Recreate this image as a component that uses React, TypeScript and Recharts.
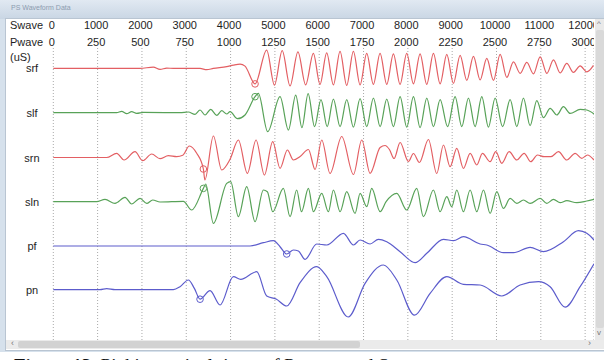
import React from 'react';
import { LineChart, Line, XAxis, YAxis, CartesianGrid, ReferenceDot } from 'recharts';

const SWAVE_TICKS = [0, 1000, 2000, 3000, 4000, 5000, 6000, 7000, 8000, 9000, 10000, 11000, 12000];
const PWAVE_TICKS = [0, 250, 500, 750, 1000, 1250, 1500, 1750, 2000, 2250, 2500, 2750, 3000];

const TRACE_NAMES = ['srf', 'slf', 'srn', 'sln', 'pf', 'pn'];
const TRACE_BASELINES = [271.6, 227.3, 182.5, 138.3, 94, 50.3];
const TRACE_COLORS = ['#e35f63', '#58a258', '#e35f63', '#58a258', '#5c5ccc', '#5c5ccc'];

// [time on the Swave scale, amplitude]
const SRF = [
  [0, 0], [1957, 0], [2257, 1.3], [2408, -1], [2559, 0.3], [2709, 0], [3311, 0], [3461, -1.3], [3612, 0],
  [3913, 1.7], [4063, 3.3], [4214, 4.3], [4326, 2.3], [4552, -15.5], [4815, 18.3], [4990, -16.7],
  [5165, 17.7], [5342, -17.5], [5520, 16.5], [5694, -16.5], [5868, 15], [6018, -16], [6169, 15.5],
  [6320, -16.5], [6470, 17], [6620, -17], [6771, 17], [6922, -16.5], [7072, 15], [7222, -16], [7373, 15],
  [7524, -16], [7674, 14.5], [7824, -16], [7975, 15], [8126, -15.5], [8276, 14.5], [8426, -16], [8577, 15],
  [8728, -15.5], [8878, 14], [9028, -15], [9179, 13], [9330, -12], [9480, 12], [9630, -11.5], [9781, 10],
  [9932, -12], [10082, 14], [10232, -9], [10383, 6.5], [10534, -5], [10684, 6], [10834, -5.5], [10985, 11.5],
  [11136, -5], [11286, 8.5], [11436, -4.5], [11586, 5], [11736, -4], [11887, 2.5], [12038, -3.5], [12188, 3],
];

const SLF = [
  [0, 0], [1430, 0], [1543, 1.3], [1656, -1], [1768, 1], [1881, -0.7], [2032, 0.3], [2859, 0], [3047, 0.7],
  [3198, -1.7], [3311, 2.7], [3424, -2.3], [3552, 3.3], [3687, -2.7], [3800, 2], [3913, -1.3], [3988, 1],
  [4153, -6], [4326, -2.3], [4552, 16], [4627, 19.3], [4838, -19], [5116, 16], [5305, -17.3], [5470, 17.5],
  [5610, -15], [5750, 19], [5895, -14], [6040, 13], [6180, -14], [6320, 13.5], [6470, -14], [6621, 13],
  [6771, -14.5], [6922, 14], [7072, -14], [7223, 14.5], [7374, -14], [7524, 13.5], [7674, -14], [7825, 16],
  [7975, -14.5], [8126, 16], [8276, -15], [8427, 14.5], [8577, -14], [8728, 13], [8897, -14], [9066, 16],
  [9216, -14], [9367, 14.5], [9517, -14], [9668, 16], [9818, -14.5], [9969, 14.5], [10138, -14], [10308, 13],
  [10458, -14], [10608, 14.5], [10758, -13], [10909, 12], [11060, -5], [11211, 4.3], [11361, -2.3],
  [11511, 6], [11662, -0.7], [11887, 3.3], [12038, 2.7], [12200, -1.3],
];

const SRN = [
  [0, 0], [1204, 0], [1430, 4.2], [1596, -2.5], [1844, 5.8], [2017, -3.2], [2220, 3.5], [2408, -1.2],
  [2596, 1.8], [2784, 0.8], [2920, 2.2], [3070, 11.5], [3236, 4.2], [3386, -11.5], [3420, -22.5],
  [3612, 21.5], [3800, -12.5], [3988, -1.8], [4176, 17.5], [4379, -15.8], [4575, 17.5], [4763, -17.5],
  [4951, 15.8], [5116, -10.8], [5282, 7.5], [5417, -2.5], [5568, 1], [5756, 8], [5907, -12], [6057, 17.5],
  [6245, -16], [6508, 21], [6772, -17], [6960, 17.5], [7148, -15.8], [7374, 10], [7486, 12], [7584, 8],
  [7690, -1], [7825, 15], [8013, -4], [8126, 4], [8261, -5], [8464, 18], [8652, -16], [8803, 12.5],
  [8953, -9.2], [9104, 9.2], [9254, -10.8], [9405, 4.2], [9555, -7.5], [9683, 4.2], [9856, -4.2],
  [9984, 5.8], [10119, -5.8], [10285, 5.8], [10458, -2.5], [10624, 4.2], [10774, -4.2], [10924, 2.5],
  [11075, 0.8], [11226, 0.8], [11398, 5.8], [11586, -2.5], [11775, 4.2], [11925, -0.8], [12053, 2.5],
  [12200, -2.5],
];

const SLN = [
  [0, 0], [979, 0], [1167, 2.3], [1392, -1.7], [1618, 4.3], [1768, -2.3], [1957, 3.3], [2107, -1.7],
  [2243, 1.7], [2408, -0.3], [2935, 0.3], [3123, -8.3], [3386, 13.3], [3439, 17.7], [3612, -21.7],
  [3913, 18.3], [4003, 20], [4176, -15], [4364, 15], [4552, -20], [4740, 11.7], [4830, 10], [4951, -10],
  [5191, 13.3], [5342, -15], [5492, 11.7], [5600, -10], [5756, 13.3], [5869, -10], [6057, 8.3],
  [6207, -10], [6320, 11.7], [6471, -10], [6621, 10], [6809, -11.7], [6922, 8.3], [7073, -5], [7185, 13.3],
  [7374, -10], [7509, 0], [7750, 8.3], [7975, -8.3], [8201, 13.3], [8351, -15], [8577, 11.7], [8727, -10],
  [8878, 5], [8991, -5], [9104, 11.7], [9254, -10], [9405, 11.7], [9555, -10], [9706, 11.7], [9856, -11.7],
  [10007, 10], [10157, -6.7], [10308, 3.3], [10458, -1.7], [10608, 1.7], [10759, -1.7], [10985, 3.3],
  [11135, -1.7], [11286, 2.3], [11436, -1], [11586, 1], [11812, -1], [12038, 0.7], [12200, 2.3],
];

const PF = [
  [0, 0], [4439, 0], [4740, 3.3], [4966, 5.3], [5116, -0.7], [5267, -8], [5417, -4], [5530, -5],
  [5681, -13.3], [5944, 2], [6170, 1], [6546, 12.7], [6772, 1], [6922, 6], [7148, 2], [7336, 6.7],
  [7524, 4.3], [7825, -5.7], [8163, -16.7], [8427, -7.3], [8803, 6.7], [9029, 5.3], [9254, 9.3], [9630, 2],
  [9781, 1], [10157, -6.7], [10383, -6.7], [10759, -1.3], [11060, -5.7], [11511, 4.3], [11850, 15.3],
  [12038, 12.7], [12200, 6],
];

const PN = [
  [0, 0], [1054, 0], [1204, 1], [1392, 0], [2709, 0], [2859, 3], [3047, 9.7], [3183, 1.3], [3311, -9.5],
  [3537, -1], [3762, -15.3], [4063, 13], [4229, 10.3], [4590, 18], [4815, -6.3], [5026, -9.3],
  [5267, -16.3], [5568, 7], [5944, 23], [6170, 13], [6655, -27.3], [7035, 6.3], [7449, 24.7], [7750, 9.7],
  [8150, -25.5], [8502, -3.7], [8878, 13], [9254, 5.3], [9630, 4.7], [10119, -6.3], [10533, 4.7],
  [10947, 8], [11210, 3], [11549, -17.5], [11887, 3], [12200, 26],
];

const TRACES = [SRF, SLF, SRN, SLN, PF, PN];

// picked arrival marks, one per trace
const PICK_TIMES = [4552, 4552, 3386, 3386, 5267, 3311];
const PICK_AMPS = [-15.5, 16, -11.5, 13.3, -8, -9.5];

const UI_FONT = "'Liberation Sans', Arial, sans-serif";

const series = TRACES.map((pts, i) => pts.map(([x, a]) => ({ x, y: TRACE_BASELINES[i] + a })));

// Swave and Pwave rows share the same grid positions
const TimeTick = ({ x, payload, index }: any) => (
  <g fontSize={11} fill="#1e1e1e" fontFamily={UI_FONT} textAnchor="middle">
    <text x={x - 1.5} y={29}>{payload.value}</text>
    <text x={x - 1.5} y={46}>{PWAVE_TICKS[index]}</text>
  </g>
);

const TraceLabel = ({ y, payload }: any) => {
  const i = TRACE_BASELINES.indexOf(payload.value);
  return (
    <text x={32} y={y} dy={4} textAnchor="middle" fontSize={11} fill="#1e1e1e" fontFamily={UI_FONT}>
      {TRACE_NAMES[i]}
    </text>
  );
};

const abs = (left: number, top: number, width: number, height: number, extra: React.CSSProperties = {}): React.CSSProperties => ({
  position: 'absolute', left, top, width, height, ...extra,
});

export default function App() {
  return (
    <div style={{ position: 'absolute', left: 0, top: 0, width: 604, height: 360, background: '#fff', overflow: 'hidden' }}>
      {/* window frame */}
      <div style={abs(0, 0, 604, 352, { background: '#d6e1ec' })} />
      <div style={abs(0, 0, 604, 19, { background: 'linear-gradient(#e1e9f2, #c9d6e4)' })} />
      <div style={{ position: 'absolute', left: 11, top: 4, fontSize: 7, color: '#8d9cb0', fontFamily: UI_FONT }}>PS Waveform Data</div>
      <div style={abs(5, 18, 599, 333, { background: '#b9c5d2' })} />
      <div style={abs(6, 19, 598, 331, { background: '#fff' })} />

      <div style={{ position: 'absolute', left: 10, top: 18, fontSize: 11, lineHeight: '15px', color: '#1e1e1e', fontFamily: UI_FONT }}>
        <div>Swave</div>
        <div style={{ marginTop: 2 }}>Pwave</div>
        <div>(uS)</div>
      </div>

      <div style={{ position: 'absolute', left: 0, top: 0 }}>
        <LineChart width={594} height={340} margin={{ top: 18, right: 0, bottom: 0, left: 0 }}>
          <CartesianGrid xAxisId="s" horizontal={false} stroke="#a9a9a9" strokeDasharray="1 2" />
          <XAxis
            xAxisId="s"
            type="number"
            dataKey="x"
            domain={[0, 12200]}
            ticks={SWAVE_TICKS}
            interval={0}
            orientation="top"
            height={30}
            axisLine={false}
            tickLine={false}
            tick={<TimeTick />}
          />
          <YAxis
            type="number"
            domain={[0, 292]}
            ticks={TRACE_BASELINES}
            interval={0}
            width={53.3}
            axisLine={false}
            tickLine={false}
            tick={<TraceLabel />}
          />
          {series.map((data, i) => (
            <Line
              key={TRACE_NAMES[i]}
              xAxisId="s"
              data={data}
              dataKey="y"
              type="monotone"
              stroke={TRACE_COLORS[i]}
              strokeWidth={1.2}
              dot={false}
              activeDot={false}
              isAnimationActive={false}
            />
          ))}
          {PICK_TIMES.map((t, i) => (
            <ReferenceDot
              key={`pick-${i}`}
              xAxisId="s"
              x={t}
              y={TRACE_BASELINES[i] + PICK_AMPS[i]}
              r={3.3}
              fill="none"
              stroke={TRACE_COLORS[i]}
              strokeWidth={1}
            />
          ))}
        </LineChart>
      </div>

      {/* scroll bars */}
      <div style={abs(595, 19, 9, 321, { background: '#e9e9e9' })} />
      <div style={abs(596, 30, 8, 298, { background: '#d9d9d9', borderRadius: 2 })} />
      <div style={{ position: 'absolute', left: 597, top: 19, fontSize: 8, color: '#777', fontFamily: UI_FONT }}>^</div>
      <div style={{ position: 'absolute', left: 597, top: 328, fontSize: 8, color: '#777', fontFamily: UI_FONT }}>v</div>
      <div style={abs(6, 340, 598, 9, { background: '#ebebeb' })} />
      <div style={abs(18, 341, 342, 7, { background: '#d2d2d2', borderRadius: 2 })} />
      <div style={{ position: 'absolute', left: 11, top: 338, fontSize: 9, color: '#777', fontFamily: UI_FONT }}>‹</div>
      <div style={{ position: 'absolute', left: 588, top: 338, fontSize: 9, color: '#777', fontFamily: UI_FONT }}>›</div>

      <div style={{ position: 'absolute', left: 14, top: 355, fontSize: 19, lineHeight: '22px', whiteSpace: 'nowrap', color: '#111', fontFamily: "'Liberation Serif', 'Times New Roman', serif" }}>
        <b>Figure 13.</b> Picking arrival times of P-wave and S-wave at
      </div>
    </div>
  );
}
